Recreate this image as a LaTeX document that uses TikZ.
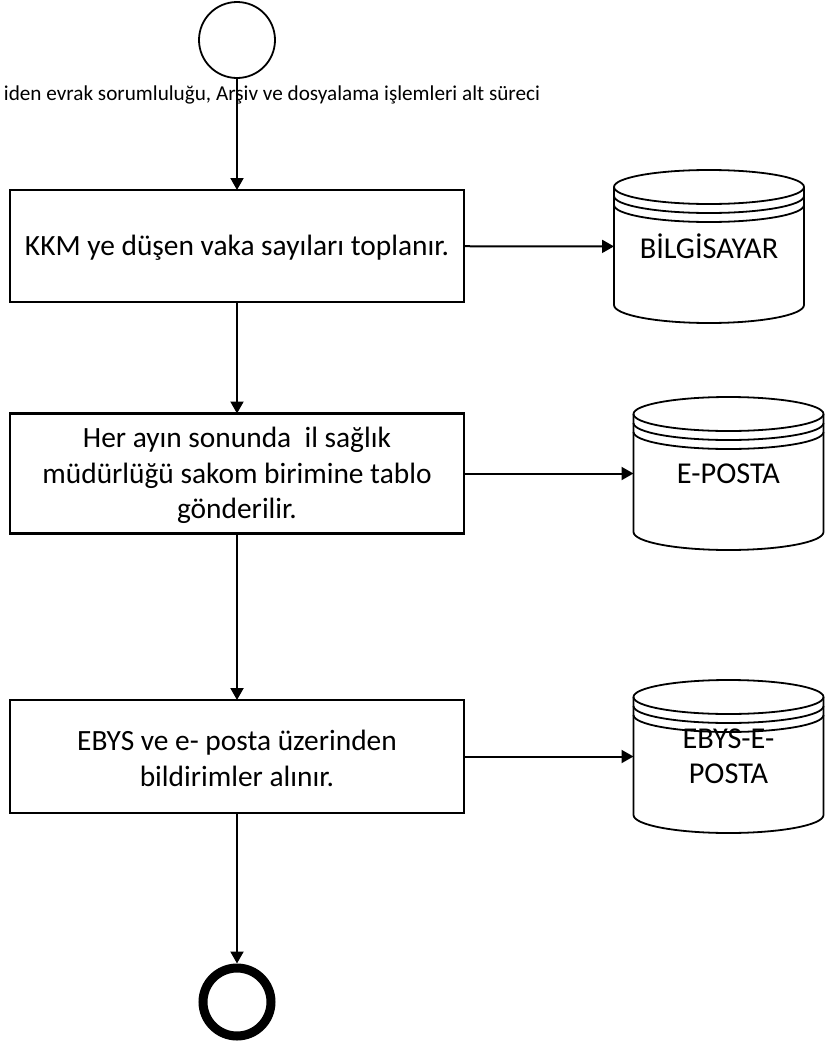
\documentclass[tikz,border=0pt]{standalone}
\usepackage{fontspec}
\setmainfont{Carlito}
\usetikzlibrary{arrows.meta}
\tikzset{
  every node/.style={outer sep=0pt,inner sep=0pt},
  flow/.style={draw=black,line width=2pt,-{Triangle[length=12pt,width=13pt]}},
  boxtext/.style={yshift=-2pt,align=center,font=\fontsize{29.4}{35.5}\selectfont},
  procbox/.style={draw=black,line width=2.2pt,minimum width=454pt},
  dbbody/.style={minimum width=190pt,minimum height=153pt,align=center,font=\fontsize{30.3}{35}\selectfont},
  dbline/.style={draw=black,line width=1.8pt},
  startev/.style={circle,draw=black,line width=1.8pt,minimum size=76pt},
  endev/.style={circle,draw=black,line width=9pt,minimum size=68pt,outer sep=4.5pt},
}
\newcommand{\dbdraw}[1]{%
  \path (#1.north west) ++(0,-17pt) coordinate (a) (#1.north east) ++(0,-17pt) coordinate (b);
  \path (#1.south west) ++(0,18pt) coordinate (c) (#1.south east) ++(0,18pt) coordinate (d);
  \draw[dbline] (a) arc[start angle=180,end angle=0,x radius=95pt,y radius=17pt]
     arc[start angle=0,end angle=-180,x radius=95pt,y radius=17pt];
  \draw[dbline] (a) -- (c) arc[start angle=180,end angle=360,x radius=95pt,y radius=18pt] -- (b);
  \draw[dbline] ([yshift=-9pt]a) arc[start angle=180,end angle=360,x radius=95pt,y radius=17pt];
  \draw[dbline] ([yshift=-18pt]a) arc[start angle=180,end angle=360,x radius=95pt,y radius=17pt];
}
\begin{document}
\begin{tikzpicture}[x=1pt,y=-1pt]
\useasboundingbox (0,0) rectangle (831,1047);
\node[startev] (start) at (237,40) {};
\node[procbox,minimum height=112pt,label={[boxtext]center:KKM ye düşen vaka sayıları toplanır.}] (p1) at (237,246) {};
\node[procbox,minimum height=120pt,label={[boxtext]center:Her ayın sonunda\ \ il sağlık\\müdürlüğü sakom birimine tablo\\gönderilir.}] (p2) at (237,473.5) {};
\node[procbox,minimum height=113pt,label={[boxtext]center:EBYS ve e- posta üzerinden\\bildirimler alınır.}] (p3) at (237,756.5) {};
\node[endev] (stop) at (237,1002) {};
\node[dbbody] (d1) at (709,246.5) {BİLGİSAYAR};
\node[dbbody] (d2) at (728.5,473.5) {E-POSTA};
\node[dbbody] (d3) at (728.5,756.5) {EBYS-E-\\POSTA};
\dbdraw{d1}
\dbdraw{d2}
\dbdraw{d3}
\node[anchor=east,font=\fontsize{21.2}{24}\selectfont] (lbl) at (540,95) {iden evrak sorumluluğu, Arşiv ve dosyalama işlemleri alt süreci};
\draw[flow] (start) -- (p1);
\draw[flow] (p1) -- (p2);
\draw[flow] (p2) -- (p3);
\draw[flow] (p3) -- (stop);
\draw[flow] (p1) -- (d1);
\draw[flow] (p2) -- (d2);
\draw[flow] (p3) -- (d3);
\end{tikzpicture}
\end{document}
